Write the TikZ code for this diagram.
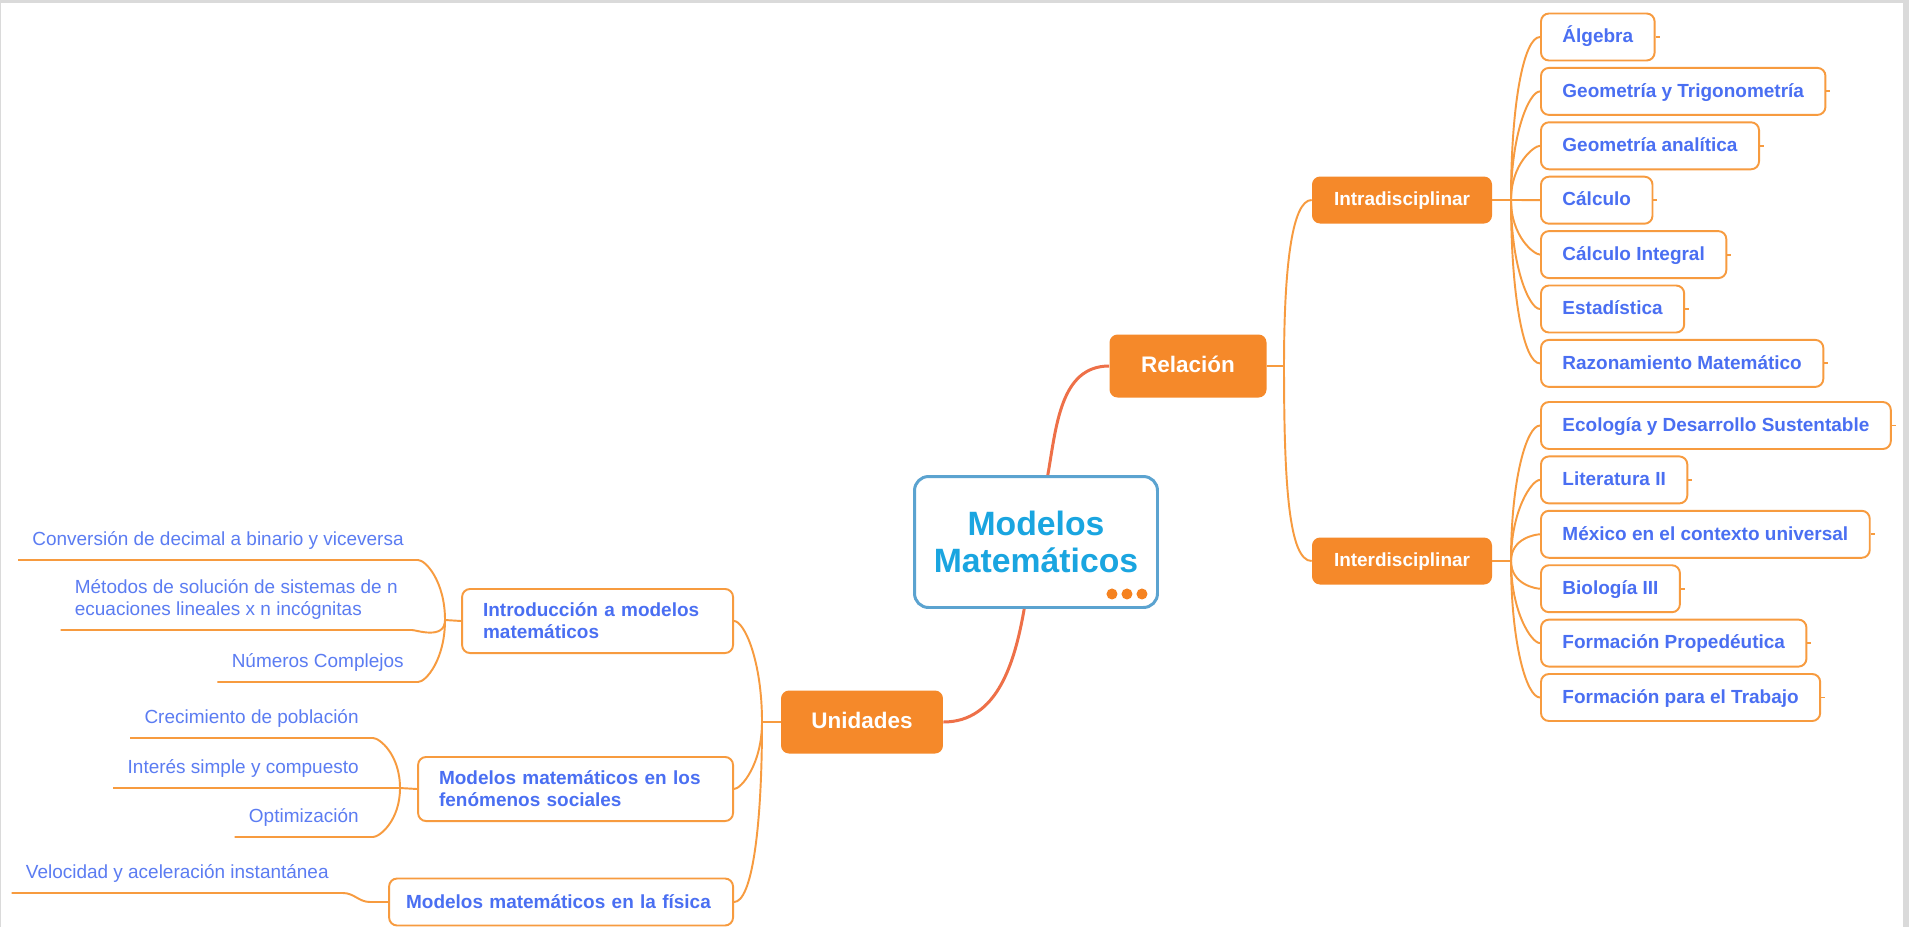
\documentclass[tikz,border=0pt]{standalone}
\usepackage{fontspec}
\setmainfont{Liberation Sans}
\definecolor{boxorange}{HTML}{F5892A}
\definecolor{leaforange}{HTML}{F79B3F}
\definecolor{mainred}{HTML}{EE7048}
\definecolor{leafblue}{HTML}{4A6FF2}
\definecolor{noteblue}{HTML}{5B7CF2}
\definecolor{hubblue}{HTML}{5BA3D0}
\definecolor{hubtext}{HTML}{1AA5E0}
\definecolor{dotorange}{HTML}{F58220}
\definecolor{framegray}{HTML}{DADADA}
\newcommand\mapfont{\fontsize{10.8}{12.5}\selectfont}
\tikzset{
  twig/.style={draw=leaforange,line width=1.1pt},
  trunk/.style={draw=mainred,line width=1.7pt},
  fan/.style={out looseness=1.5,in looseness=0.25}
}

\begin{document}
\begin{tikzpicture}[x=0.02cm,y=-0.02cm,
  hub/.style={draw=hubblue,line width=1.7pt,fill=white,rounded corners=0.28cm,minimum width=4.86cm,minimum height=2.62cm,align=center,text=hubtext,font=\fontsize{19.2}{21}\selectfont\bfseries},
  branch/.style={fill=boxorange,rounded corners=0.16cm,text=white,font=\fontsize{12.8}{15}\selectfont\bfseries,minimum height=1.26cm,text height=9.3pt,text depth=1.8pt},
  sub/.style={fill=boxorange,rounded corners=0.16cm,text=white,font=\mapfont\bfseries,minimum width=3.6cm,minimum height=0.94cm,text height=8pt,text depth=1.5pt},
  leaf/.style={draw=leaforange,line width=1.1pt,fill=white,rounded corners=0.16cm,anchor=west,text=leafblue,font=\mapfont\bfseries,inner xsep=0.43cm,minimum height=0.94cm,text height=8pt,text depth=1.5pt},
  topic/.style={draw=leaforange,line width=1.1pt,fill=white,rounded corners=0.16cm,anchor=east,align=left,text=leafblue,font=\mapfont\bfseries,inner xsep=0.42cm,inner ysep=0.28cm,minimum height=0.94cm},
  note/.style={anchor=south east,align=left,text=noteblue,font=\mapfont,inner xsep=0.28cm,inner ysep=0.28cm,text depth=0pt}
]
\fill[framegray] (0,0) rectangle (1909,927);
\fill[white] (1,3) rectangle (1903,927);
\useasboundingbox (0,0) rectangle (1909,927);

\node[hub] (core) at (1036,542) {Modelos\\Matemáticos};
\foreach \x in {-0.94,-0.64,-0.34}
  \fill[dotorange] ([xshift=\x cm,yshift=0.3cm]core.south east) circle (0.11cm);
\node[branch,minimum width=3.14cm] (rel) at (1188,366) {Relación};
\node[branch,minimum width=3.24cm] (uni) at (862,722) {Unidades};
\node[sub] (intra) at (1402,200) {Intradisciplinar};
\node[sub] (inter) at (1402,561) {Interdisciplinar};

\foreach \n/\y/\t in {alg/37/Álgebra, geo/91.4/Geometría y Trigonometría, ana/145.8/Geometría analítica,
    calc/200.2/Cálculo, calci/254.6/Cálculo Integral, est/309/Estadística, raz/363.4/Razonamiento Matemático,
    eco/425.5/Ecología y Desarrollo Sustentable, lit/479.9/Literatura II, mex/534.3/México en el contexto universal,
    bio/588.7/Biología III, prop/643.1/Formación Propedéutica, trab/697.5/Formación para el Trabajo}
  \node[leaf] (\n) at (1540,\y) {\t};

\node[topic,text width=4.58cm] (intro) at (734,621) {Introducción a modelos\\matemáticos};
\node[topic,text width=5.46cm] (soc) at (734,789) {Modelos matemáticos en los\\fenómenos sociales};
\node[topic,text width=6.2cm,inner xsep=0.34cm] (fis) at (734,902) {Modelos matemáticos en la física};

\node[note] (conv) at (418,560) {Conversión de decimal a binario y viceversa};
\node[note] (meto) at (412,630) {Métodos de solución de sistemas de n\\ecuaciones lineales x n incógnitas};
\node[note] (nume) at (418,682) {Números Complejos};
\node[note] (crec) at (373,738) {Crecimiento de población};
\node[note] (inte) at (373,788) {Interés simple y compuesto};
\node[note] (opti) at (373,837) {Optimización};
\node[note] (velo) at (343,893) {Velocidad y aceleración instantánea};

\coordinate (relj) at (1284,366);
\coordinate (intraj) at (1511,200);
\coordinate (interj) at (1511,561);
\coordinate (unij) at (762,722);
\coordinate (introj) at (445,620);
\coordinate (socj) at (400,788);
\coordinate (fisj) at (370,902);

\draw[trunk] (core.80) to[out=80,in=180] (rel.west);
\draw[trunk] (core.-100) to[out=-100,in=0] (uni.east);

\draw[twig] (rel.east) -- (relj) to[out=90,in=180,out looseness=1.5,in looseness=0.3] (intra.west);
\draw[twig] (relj) to[out=-90,in=180,out looseness=1.5,in looseness=0.3] (inter.west);
\draw[twig] (intra.east) -- (intraj);
\draw[twig] (inter.east) -- (interj);
\foreach \n/\a in {alg/90,geo/90,ana/90,calc/0,calci/-90,est/-90,raz/-90}
  \draw[twig] (intraj) to[out=\a,in=180,fan] (\n.west);
\foreach \n/\a in {eco/90,lit/90,mex/90,bio/-90,prop/-90,trab/-90}
  \draw[twig] (interj) to[out=\a,in=180,fan] (\n.west);
\foreach \n in {alg,geo,ana,calc,calci,est,raz,eco,lit,mex,bio,prop,trab}
  \draw[twig] (\n.east) -- ++(4,0);

\draw[twig] (uni.west) -- (unij);
\draw[twig] (unij) to[out=90,in=0,fan] (intro.east);
\draw[twig] (unij) to[out=-90,in=0,fan] (soc.east);
\draw[twig] (unij) to[out=-90,in=0,fan] (fis.east);

\draw[twig] (introj) -- (intro.west);
\draw[twig] (conv.south west) -- (conv.south east) to[out=0,in=90,out looseness=0.3,in looseness=1.5] (introj);
\draw[twig] (meto.south west) -- (meto.south east) to[out=0,in=-90,out looseness=0.3,in looseness=1.5] (introj);
\draw[twig] (nume.south west) -- (nume.south east) to[out=0,in=-90,out looseness=0.3,in looseness=1.5] (introj);
\draw[twig] (socj) -- (soc.west);
\draw[twig] (crec.south west) -- (crec.south east) to[out=0,in=90,out looseness=0.3,in looseness=1.5] (socj);
\draw[twig] (inte.south west) -- (inte.south east) -- (socj);
\draw[twig] (opti.south west) -- (opti.south east) to[out=0,in=-90,out looseness=0.3,in looseness=1.5] (socj);
\draw[twig] (velo.south west) -- (velo.south east) to[out=0,in=180] (fisj) -- (fis.west);
\end{tikzpicture}
\end{document}
